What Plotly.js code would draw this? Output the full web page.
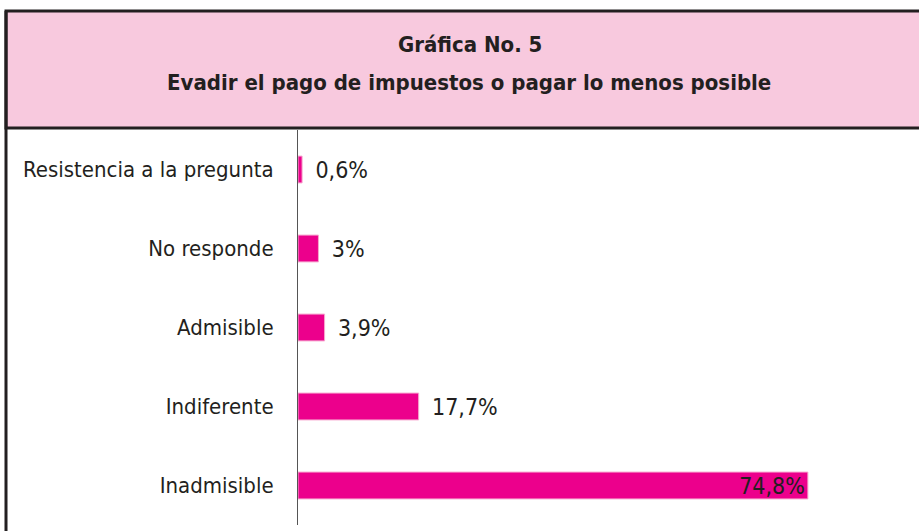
<!DOCTYPE html>
<html>
<head>
<meta charset="utf-8">
<script src="https://cdn.plot.ly/plotly-3.0.1.min.js"></script>
<style>html,body{margin:0;padding:0;background:#fff;}#chart{width:919px;height:531px;}</style>
</head>
<body>
<div id="chart"></div>
<script>
const categories = ["Resistencia a la pregunta", "No responde", "Admisible", "Indiferente", "Inadmisible"];
const values = [0.6, 3, 3.9, 17.7, 74.8];
const valueLabels = ["0,6%", "3%", "3,9%", "17,7%", "74,8%"];
const labelPositions = ["outside", "outside", "outside", "outside", "inside"];
const titleLine1 = "Gráfica No. 5";
const titleLine2 = "Evadir el pago de impuestos o pagar lo menos posible";

const FONT = "'Liberation Sans Narrow', 'DejaVu Sans Condensed', sans-serif";

const trace = {
  type: "bar",
  orientation: "h",
  y: categories,
  x: values,
  text: valueLabels,
  texttemplate: "\u2002%{text}",
  textposition: labelPositions,
  insidetextanchor: "end",
  constraintext: "none",
  cliponaxis: false,
  textfont: {family: FONT, size: 23, color: "#231f20"},
  insidetextfont: {family: FONT, size: 23, color: "#231f20"},
  outsidetextfont: {family: FONT, size: 23, color: "#231f20"},
  marker: {color: "#ec008c", line: {color: "#f7a8cf", width: 1}},
  width: 0.34,
  hoverinfo: "none"
};

const L = 298, T = 130, B = 6, W = 919, H = 531;
const pw = W - L, ph = H - T - B;
const px = v => (v - L) / pw;
const py = v => (H - B - v) / ph;

const layout = {
  width: W, height: H,
  margin: {l: L, r: 0, t: T, b: B, pad: 0},
  paper_bgcolor: "#ffffff",
  plot_bgcolor: "#ffffff",
  showlegend: false,
  xaxis: {
    range: [0, 91.1],
    showgrid: false, zeroline: false, showline: false,
    showticklabels: false, ticks: "", fixedrange: true
  },
  yaxis: {
    autorange: "reversed",
    showgrid: false, zeroline: false,
    showline: true, linecolor: "#555555", linewidth: 1,
    ticks: "", ticklabelstandoff: 19,
    tickfont: {family: FONT, size: 22, color: "#231f20"},
    fixedrange: true
  },
  annotations: [
    {text: "<b>" + titleLine1 + "</b>", xref: "paper", yref: "paper",
     x: px(470), y: py(45), xanchor: "center", yanchor: "middle", showarrow: false,
     font: {family: FONT, size: 22, color: "#231f20"}},
    {text: "<b>" + titleLine2 + "</b>", xref: "paper", yref: "paper",
     x: px(469), y: py(82), xanchor: "center", yanchor: "middle", showarrow: false,
     font: {family: FONT, size: 22, color: "#231f20"}}
  ],
  shapes: [
    {type: "rect", xref: "paper", yref: "paper", layer: "below",
     x0: px(6), x1: px(940), y0: py(128), y1: py(11),
     fillcolor: "#f8c9de", line: {color: "#231f20", width: 3}},
    {type: "line", xref: "paper", yref: "paper",
     x0: px(6), x1: px(6), y0: py(11), y1: py(540),
     line: {color: "#231f20", width: 3}}
  ]
};

Plotly.newPlot("chart", [trace], layout, {displayModeBar: false, staticPlot: true});
</script>
</body>
</html>
